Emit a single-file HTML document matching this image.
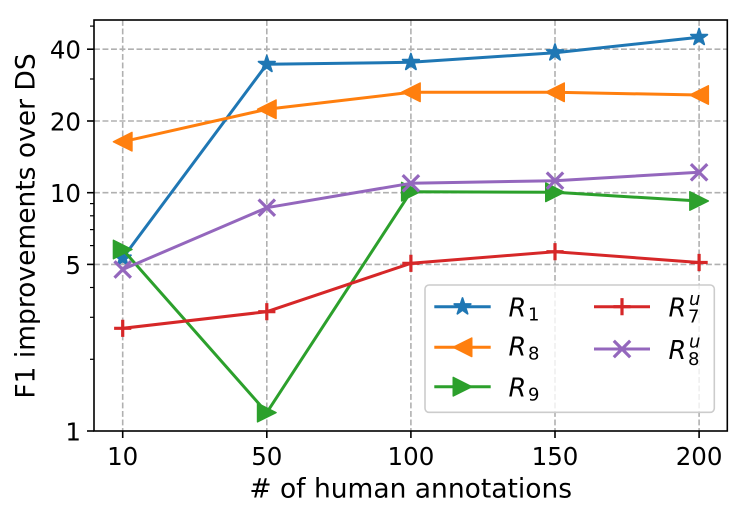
<!DOCTYPE html>
<html><head><meta charset="utf-8"><style>
html,body{margin:0;padding:0;background:#fff;}
svg{display:block;}
text{font-family:"DejaVu Sans","Liberation Sans",sans-serif;fill:#000;}
</style></head><body>
<svg width="748" height="517" viewBox="0 0 748 517" xmlns="http://www.w3.org/2000/svg">
<defs>
<path id="star" d="M0,-8.7 L1.95,-2.69 L8.27,-2.69 L3.16,1.03 L5.11,7.04 L0,3.32 L-5.11,7.04 L-3.16,1.03 L-8.27,-2.69 L-1.95,-2.69 Z" fill="#1f77b4" stroke="#1f77b4" stroke-width="1.8" stroke-linejoin="round"/>
<path id="tl" d="M-9.3,0 L9.3,-9.3 L9.3,9.3 Z" fill="#ff7f0e" stroke="#ff7f0e" stroke-width="1.4" stroke-linejoin="round"/>
<path id="tr" d="M9.3,0 L-9.3,-9.3 L-9.3,9.3 Z" fill="#2ca02c" stroke="#2ca02c" stroke-width="1.4" stroke-linejoin="round"/>
<path id="plus" d="M-8.6,0 H8.6 M0,-8.6 V8.6" stroke="#d62728" stroke-width="3.2" fill="none"/>
<path id="xm" d="M-8.2,-8.2 L8.2,8.2 M-8.2,8.2 L8.2,-8.2" stroke="#9467bd" stroke-width="3.2" fill="none"/>
</defs>

<!-- grid -->
<g stroke="#b0b0b0" stroke-width="1.6" stroke-dasharray="5.9,2.6" fill="none">
<line x1="122.7" y1="20" x2="122.7" y2="431"/>
<line x1="266.8" y1="20" x2="266.8" y2="431"/>
<line x1="410.9" y1="20" x2="410.9" y2="431"/>
<line x1="555" y1="20" x2="555" y2="431"/>
<line x1="699.1" y1="20" x2="699.1" y2="431"/>
<line x1="94" y1="49.2" x2="727.3" y2="49.2"/>
<line x1="94" y1="121" x2="727.3" y2="121"/>
<line x1="94" y1="192.7" x2="727.3" y2="192.7"/>
<line x1="94" y1="264.4" x2="727.3" y2="264.4"/>
</g>

<!-- series lines -->
<polyline fill="none" stroke="#1f77b4" stroke-width="3" stroke-linejoin="round" points="122.7,258 266.8,64.3 410.9,62.3 555,52.7 699.1,37.3"/>
<use href="#star" x="122.7" y="258"/><use href="#star" x="266.8" y="64.3"/><use href="#star" x="410.9" y="62.3"/><use href="#star" x="555" y="52.7"/><use href="#star" x="699.1" y="37.3"/>
<polyline fill="none" stroke="#ff7f0e" stroke-width="3" stroke-linejoin="round" points="122.7,141.7 266.8,109.3 410.9,92.3 555,92.3 699.1,95"/>
<use href="#tl" x="122.7" y="141.7"/><use href="#tl" x="266.8" y="109.3"/><use href="#tl" x="410.9" y="92.3"/><use href="#tl" x="555" y="92.3"/><use href="#tl" x="699.1" y="95"/>
<polyline fill="none" stroke="#2ca02c" stroke-width="3" stroke-linejoin="round" points="122.7,249.5 266.8,412.6 410.9,191.7 555,192.3 699.1,201"/>
<use href="#tr" x="122.7" y="249.5"/><use href="#tr" x="266.8" y="412.6"/><use href="#tr" x="410.9" y="191.7"/><use href="#tr" x="555" y="192.3"/><use href="#tr" x="699.1" y="201"/>
<polyline fill="none" stroke="#d62728" stroke-width="3" stroke-linejoin="round" points="122.7,328.3 266.8,311.7 410.9,263.3 555,251.7 699.1,262.5"/>
<use href="#plus" x="122.7" y="328.3"/><use href="#plus" x="266.8" y="311.7"/><use href="#plus" x="410.9" y="263.3"/><use href="#plus" x="555" y="251.7"/><use href="#plus" x="699.1" y="262.5"/>
<polyline fill="none" stroke="#9467bd" stroke-width="3" stroke-linejoin="round" points="122.7,269.5 266.8,207.7 410.9,183.3 555,180.7 699.1,172.3"/>
<use href="#xm" x="122.7" y="269.5"/><use href="#xm" x="266.8" y="207.7"/><use href="#xm" x="410.9" y="183.3"/><use href="#xm" x="555" y="180.7"/><use href="#xm" x="699.1" y="172.3"/>

<!-- legend -->
<rect x="425" y="285" width="289.3" height="127.3" rx="4" ry="4" fill="#fff" fill-opacity="0.8" stroke="#cccccc" stroke-width="1.6"/>
<line x1="434.3" y1="306.7" x2="490.7" y2="306.7" stroke="#1f77b4" stroke-width="3"/>
<use href="#star" x="462.5" y="306.7"/>
<line x1="434.3" y1="347.3" x2="490.7" y2="347.3" stroke="#ff7f0e" stroke-width="3"/>
<use href="#tl" x="462.5" y="347.3"/>
<line x1="434.3" y1="386.7" x2="490.7" y2="386.7" stroke="#2ca02c" stroke-width="3"/>
<use href="#tr" x="462.5" y="386.7"/>
<line x1="594" y1="306.7" x2="650" y2="306.7" stroke="#d62728" stroke-width="3"/>
<use href="#plus" x="622" y="306.7"/>
<line x1="594" y1="349" x2="650" y2="349" stroke="#9467bd" stroke-width="3"/>
<use href="#xm" x="622" y="349"/>

<g font-size="25.5" font-style="italic">
<text x="508.5" y="316.7">R</text>
<text x="508.5" y="355.5">R</text>
<text x="508.5" y="396.7">R</text>
<text x="668.5" y="316.7">R</text>
<text x="668.5" y="359">R</text>
</g>
<g font-size="18">
<text x="528" y="320.5">1</text>
<text x="528" y="359.5">8</text>
<text x="528" y="400.5">9</text>
<text x="688" y="322.5">7</text>
<text x="688" y="364.8">8</text>
</g>
<g font-size="18" font-style="italic">
<text x="689" y="305">u</text>
<text x="689" y="347.3">u</text>
</g>

<!-- spines -->
<rect x="94" y="20" width="633.3" height="411" fill="none" stroke="#000" stroke-width="1.6"/>

<!-- y ticks -->
<g stroke="#000" stroke-width="1.6">
<line x1="87" y1="431" x2="94" y2="431"/>
<line x1="87" y1="264.4" x2="94" y2="264.4"/>
<line x1="87" y1="192.7" x2="94" y2="192.7"/>
<line x1="87" y1="121" x2="94" y2="121"/>
<line x1="87" y1="49.2" x2="94" y2="49.2"/>
</g>
<g stroke="#000" stroke-width="1.2">
<line x1="90" y1="359.3" x2="94" y2="359.3"/>
<line x1="90" y1="317.3" x2="94" y2="317.3"/>
<line x1="90" y1="287.5" x2="94" y2="287.5"/>
<line x1="90" y1="245.6" x2="94" y2="245.6"/>
<line x1="90" y1="229.6" x2="94" y2="229.6"/>
<line x1="90" y1="215.8" x2="94" y2="215.8"/>
<line x1="90" y1="203.6" x2="94" y2="203.6"/>
<line x1="90" y1="79" x2="94" y2="79"/>
<line x1="90" y1="26.1" x2="94" y2="26.1"/>
</g>
<!-- x ticks -->
<g stroke="#000" stroke-width="1.6">
<line x1="122.7" y1="431" x2="122.7" y2="438"/>
<line x1="266.8" y1="431" x2="266.8" y2="438"/>
<line x1="410.9" y1="431" x2="410.9" y2="438"/>
<line x1="555" y1="431" x2="555" y2="438"/>
<line x1="699.1" y1="431" x2="699.1" y2="438"/>
</g>

<g font-size="24.5" text-anchor="end">
<text x="81" y="440.5">1</text>
<text x="81" y="273.9">5</text>
<text x="81" y="202.2">10</text>
<text x="81" y="130.5">20</text>
<text x="81" y="58.7">40</text>
</g>
<g font-size="24.5" text-anchor="middle">
<text x="122.7" y="464.8">10</text>
<text x="266.8" y="464.8">50</text>
<text x="410.9" y="464.8">100</text>
<text x="555" y="464.8">150</text>
<text x="699.1" y="464.8">200</text>
</g>

<text x="410.7" y="497.7" font-size="26.5" text-anchor="middle"># of human annotations</text>
<text transform="translate(34.3,226) rotate(-90)" font-size="26.5" text-anchor="middle">F1 improvements over DS</text>
</svg>
</body></html>
